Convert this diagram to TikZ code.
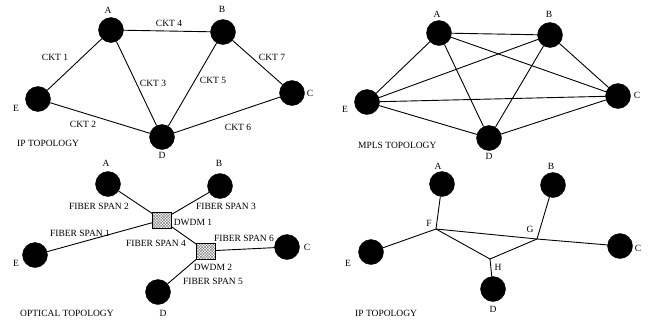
\documentclass[tikz,border=0pt]{standalone}
\usepackage{fontspec}
\setmainfont{Liberation Serif}
\usetikzlibrary{positioning, patterns.meta}
\tikzset{%
router/.style={circle, fill=black, draw=black, minimum size=25pt, inner sep=0pt},
dwdm box/.style={rectangle, draw, line width=0.8pt,
    minimum width=19pt, minimum height=16pt, inner sep=0pt,
    preaction={pattern={Lines[angle=45,distance=2pt,line width=0.35pt]}, pattern color=black!60},
    preaction={pattern={Lines[angle=-45,distance=2pt,line width=0.35pt]}, pattern color=black!60}
  },
tag/.style={font=\fontsize{9.5}{11}\selectfont, inner sep=0pt},
link/.style={line width=0.9pt}
}

\begin{document}
\begin{tikzpicture}[x=1pt, y=-1pt]
\useasboundingbox (0,0) rectangle (661,322);

% IP topology
\node[router] (ipA) at (111,30) {};
\node[router] (ipB) at (223,32) {};
\node[router] (ipC) at (292,93) {};
\node[router] (ipD) at (162,137) {};
\node[router] (ipE) at (38,99) {};
\draw[link] (ipE) -- (ipA);
\draw[link] (ipE) -- (ipD);
\draw[link] (ipA) -- (ipD);
\draw[link] (ipA) -- (ipB);
\draw[link] (ipB) -- (ipD);
\draw[link] (ipD) -- (ipC);
\draw[link] (ipB) -- (ipC);
\node[tag] (ipAl) at (108,10) {A};
\node[tag] (ipBl) at (222,9) {B};
\node[tag] (ipCl) at (310,93) {C};
\node[tag] (ipDl) at (162,155) {D};
\node[tag] (ipEl) at (16,108) {E};
\node[tag] (ckt1) at (55,57) {CKT 1};
\node[tag] (ckt2) at (83,124) {CKT 2};
\node[tag] (ckt3) at (153,83) {CKT 3};
\node[tag] (ckt4) at (169,23) {CKT 4};
\node[tag] (ckt5) at (213,80) {CKT 5};
\node[tag] (ckt6) at (238,127) {CKT 6};
\node[tag] (ckt7) at (272,57) {CKT 7};
\node[tag, anchor=west] (iptitle) at (17,143) {IP TOPOLOGY};

% MPLS topology
\node[router] (mpA) at (439,33) {};
\node[router] (mpB) at (550,35) {};
\node[router] (mpC) at (618,96) {};
\node[router] (mpD) at (489,138) {};
\node[router] (mpE) at (367,102) {};
\foreach \s/\t in {A/B, A/C, A/D, A/E, B/C, B/D, B/E, C/D, C/E, D/E}
  \draw[link] (mp\s) -- (mp\t);
\node[tag] (mpAl) at (437,14) {A};
\node[tag] (mpBl) at (549,14) {B};
\node[tag] (mpCl) at (637,95) {C};
\node[tag] (mpDl) at (489,156) {D};
\node[tag] (mpEl) at (345,109) {E};
\node[tag, anchor=west] (mptitle) at (358,145) {MPLS TOPOLOGY};

% optical topology
\node[router] (opA) at (108,184) {};
\node[router] (opB) at (220,186) {};
\node[router] (opC) at (287,247) {};
\node[router] (opD) at (158,292) {};
\node[router] (opE) at (35,255) {};
\node[dwdm box] (dw1) at (162,220) {};
\node[dwdm box] (dw2) at (206,251) {};
\draw[link] (opA) -- (dw1);
\draw[link] (opB) -- (dw1);
\draw[link] (opE) -- (dw1);
\draw[link] (dw1) -- (dw2);
\draw[link] (dw2) -- (opC);
\draw[link] (dw2) -- (opD);
\node[tag] (opAl) at (106,163) {A};
\node[tag] (opBl) at (219,163) {B};
\node[tag] (opCl) at (307,247) {C};
\node[tag] (opDl) at (163,313) {D};
\node[tag] (opEl) at (16,263) {E};
\node[tag] (fs1) at (80,233) {FIBER SPAN 1};
\node[tag] (fs2) at (99,206) {FIBER SPAN 2};
\node[tag] (fs3) at (226,206) {FIBER SPAN 3};
\node[tag] (fs4) at (156,243) {FIBER SPAN 4};
\node[tag] (fs5) at (213,281) {FIBER SPAN 5};
\node[tag] (fs6) at (244,238) {FIBER SPAN 6};
\node[tag] (dw1l) at (193,222) {DWDM 1};
\node[tag] (dw2l) at (213,267) {DWDM 2};
\node[tag, anchor=west] (optitle) at (20,313) {OPTICAL TOPOLOGY};

% IP topology over optical
\node[router] (ovA) at (442,184) {};
\node[router] (ovB) at (553,185) {};
\node[router] (ovC) at (620,246) {};
\node[router] (ovD) at (493,289) {};
\node[router] (ovE) at (371,252) {};
\coordinate (ovF) at (436,229);
\coordinate (ovG) at (537,239);
\coordinate (ovH) at (490,259);
\draw[link] (ovA) -- (ovF);
\draw[link] (ovE) -- (ovF);
\draw[link] (ovF) -- (ovG) -- (ovC);
\draw[link] (ovF) -- (ovH) -- (ovG);
\draw[link] (ovG) -- (ovB);
\draw[link] (ovH) -- (ovD);
\node[tag] (ovAl) at (438,166) {A};
\node[tag] (ovBl) at (551,166) {B};
\node[tag] (ovCl) at (638,248) {C};
\node[tag] (ovDl) at (493,309) {D};
\node[tag] (ovEl) at (348,263) {E};
\node[tag] (ovFl) at (429,223) {F};
\node[tag] (ovGl) at (530,229) {G};
\node[tag] (ovHl) at (498,267) {H};
\node[tag, anchor=west] (ovtitle) at (355,313) {IP TOPOLOGY};
\end{tikzpicture}
\end{document}
